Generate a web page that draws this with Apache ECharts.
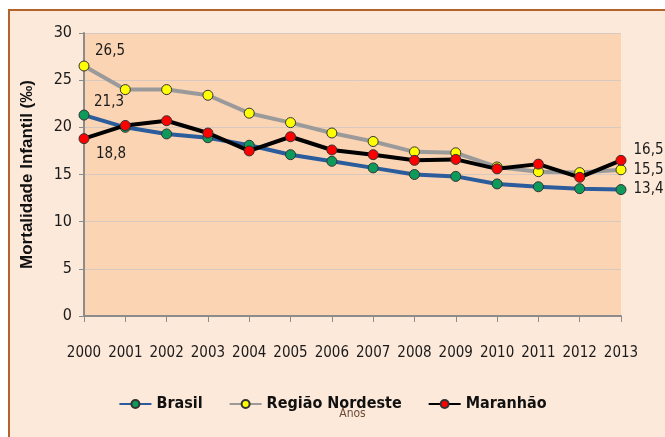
<!DOCTYPE html>
<html>
<head>
<meta charset="utf-8">
<script src="https://cdn.jsdelivr.net/npm/echarts@6/dist/echarts.min.js"></script>
<style>
  html, body { margin: 0; padding: 0; background: #fff; }
  #chart { width: 665px; height: 437px; }
</style>
</head>
<body>
<div id="chart"></div>
<script>
var anos = ['2000', '2001', '2002', '2003', '2004', '2005', '2006',
            '2007', '2008', '2009', '2010', '2011', '2012', '2013'];

var brasil   = [21.3, 20.0, 19.3, 18.9, 18.1, 17.1, 16.4, 15.7, 15.0, 14.8, 14.0, 13.7, 13.5, 13.4];
var nordeste = [26.5, 24.0, 24.0, 23.4, 21.5, 20.5, 19.4, 18.5, 17.4, 17.3, 15.8, 15.3, 15.2, 15.5];
var maranhao = [18.8, 20.2, 20.7, 19.4, 17.5, 19.0, 17.6, 17.1, 16.5, 16.6, 15.6, 16.1, 14.7, 16.5];

// which points get a value label, and where
var labelPos = {
    'Brasil':          { 0: 'top', 13: 'right' },
    'Região Nordeste': { 0: 'top', 13: 'right' },
    'Maranhão':        { 0: 'bottom', 13: 'right' }
};

var narrow = '"Liberation Sans Narrow", "DejaVu Sans Condensed", sans-serif';

function fmt(v) {
    return String(v.toFixed(1)).replace('.', ',');
}

function makeSeries(name, values, lineColor, dotColor, z) {
    var pos = labelPos[name];
    var data = values.map(function(v, i) {
        var item = { value: v };
        if (pos[i] !== undefined) {
            var lbl = { show: true, position: pos[i] };
            if (i === 0 && name === 'Região Nordeste') lbl.offset = [26, 3];
            if (i === 0 && name === 'Brasil') lbl.offset = [25, 5];
            if (i === 0 && name === 'Maranhão') lbl.offset = [27, -3];
            if (i === 13) lbl.offset = [2, name === 'Maranhão' ? -10 : 0];
            item.label = lbl;
        }
        return item;
    });
    return {
        name: name,
        type: 'line',
        data: data,
        z: z,
        symbol: 'circle',
        symbolSize: 10,
        lineStyle: { color: lineColor, width: 4 },
        itemStyle: { color: dotColor, borderColor: '#333', borderWidth: 1 },
        label: {
            show: false,
            formatter: function(p) { return fmt(p.value); },
            fontFamily: narrow,
            fontSize: 15,
            color: '#1a1a1a'
        },
        emphasis: { disabled: true }
    };
}

var myChart = echarts.init(document.getElementById('chart'));

var option = {
    animation: false,
    backgroundColor: '#ffffff',
    graphic: [{
        type: 'rect',
        z: -10,
        shape: { x: 9, y: 10, width: 700, height: 450 },
        style: { fill: '#FDE9DA', stroke: '#B4642A', lineWidth: 2 }
    }],
    grid: {
        left: 84,
        right: 44,
        top: 33,
        bottom: 121,
        show: true,
        backgroundColor: '#FBD4B4',
        borderWidth: 0
    },
    legend: {
        bottom: 20,
        left: 'center',
        itemGap: 26,
        itemWidth: 32,
        itemHeight: 10,
        textStyle: { fontFamily: narrow, fontSize: 16, fontWeight: 'bold', color: '#111' },
        data: ['Brasil', 'Região Nordeste', 'Maranhão']
    },
    xAxis: {
        type: 'category',
        data: anos,
        boundaryGap: false,
        name: 'Anos',
        nameLocation: 'middle',
        nameGap: 92,
        nameTextStyle: { fontFamily: narrow, fontSize: 12, color: '#6b4a35' },
        axisLine: { lineStyle: { color: '#8c8c8c', width: 2 } },
        axisTick: { show: true, interval: 0, length: 6, lineStyle: { color: '#8c8c8c' } },
        axisLabel: { interval: 0, margin: 30, fontFamily: narrow, fontSize: 15, color: '#1a1a1a' },
        splitLine: { show: false }
    },
    yAxis: {
        type: 'value',
        min: 0,
        max: 30,
        interval: 5,
        name: 'Mortalidade Infantil (‰)',
        nameLocation: 'middle',
        nameGap: 48,
        nameTextStyle: { fontFamily: '"Liberation Sans", Arial, sans-serif', fontSize: 17, fontWeight: 'bold', color: '#111' },
        axisLine: { show: true, lineStyle: { color: '#8c8c8c', width: 2 } },
        axisTick: { show: true, length: 5, lineStyle: { color: '#8c8c8c' } },
        axisLabel: { margin: 12, fontFamily: narrow, fontSize: 16, color: '#1a1a1a' },
        splitLine: { show: true, lineStyle: { color: '#D8C9C0', width: 1 } }
    },
    series: [
        makeSeries('Brasil', brasil, '#2B5C9B', '#0E9A5A', 3),
        makeSeries('Região Nordeste', nordeste, '#9A9A9A', '#FFFF00', 4),
        makeSeries('Maranhão', maranhao, '#000000', '#FF0000', 5)
    ]
};

myChart.setOption(option);
</script>
</body>
</html>
